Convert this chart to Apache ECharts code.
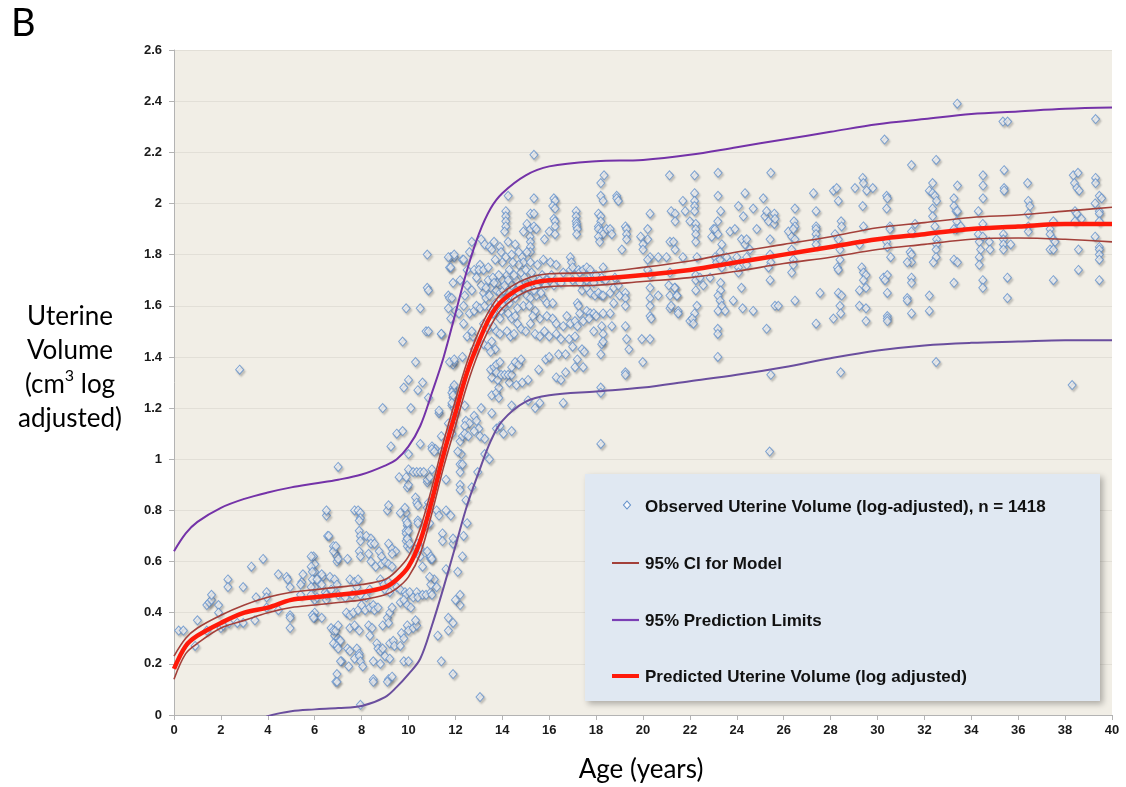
<!DOCTYPE html>
<html>
<head>
<meta charset="utf-8">
<script src="https://cdn.jsdelivr.net/npm/echarts@6/dist/echarts.min.js"></script>
<style>
  html, body { margin: 0; padding: 0; background: #fff; }
  #chart { width: 1126px; height: 787px; }
</style>
</head>
<body>
<div id="chart"></div>
<script>
// observed points [age, log volume]
const obsEarly = [
  [0.2,0.33],[0.4,0.33],[0.9,0.27],[1.0,0.37],[1.4,0.33],[1.4,0.43],[1.5,0.44],[1.6,0.45],[1.6,0.47],[1.9,0.43],
  [1.9,0.40],[2.0,0.34],[2.1,0.35],[2.3,0.53],[2.3,0.50],[2.35,0.36],[2.7,0.36],[2.95,0.36],[2.95,0.50],[3.3,0.58],
  [3.45,0.37],[3.5,0.46],[3.8,0.61],[3.95,0.48],[3.95,0.46],[3.95,0.42],[4.45,0.55],[4.45,0.41],[4.8,0.54],[4.85,0.53],
  [4.95,0.50],[4.95,0.39],[4.95,0.38],[4.95,0.34],[5.45,0.52],[5.4,0.47],[5.95,0.62],[6.0,0.59],[6.0,0.56],[6.0,0.50],
  [6.0,0.45],[6.0,0.40],[6.0,0.38],[6.35,0.54],[6.45,0.48],[6.5,0.45],[6.5,0.78],[6.55,0.70],[2.8,1.35],[7.0,0.97],
  [6.5,0.80],[7.7,0.80],[7.85,0.80],[7.95,0.79],[7.95,0.77],[7.9,0.76],[9.1,0.80],[9.15,0.82],[9.9,0.79],[9.9,0.76],
  [9.95,0.74],[9.9,0.72],[9.95,0.89],[10.4,0.76],[10.8,0.91],[10.85,0.83],[10.8,0.81],[6.6,0.70],[6.8,0.66],[6.9,0.63],
  [6.95,0.62],[6.95,0.60],[7.0,0.61],[7.9,0.72],[7.95,0.70],[7.95,0.68],[8.2,0.70],[8.4,0.69],[8.4,0.67],[8.55,0.67],
  [7.9,0.64],[7.95,0.62],[7.4,0.61],[8.3,0.63],[8.4,0.60],[8.75,0.64],[8.85,0.62],[9.15,0.67],[9.3,0.65],[9.45,0.64],
  [9.3,0.63],[8.6,0.58],[8.85,0.59],[9.0,0.60],[9.15,0.59],[9.3,0.58],[9.9,0.71],[9.95,0.69],[9.9,0.68],[9.95,0.66],
  [10.05,0.65],[10.4,0.67],[10.5,0.65],[10.5,0.62],[10.9,0.62],[10.95,0.61],[6.8,0.64],[6.9,0.66],[6.85,0.31],[7.0,0.30],
  [5.85,0.62],[5.85,0.58],[5.9,0.56],[5.9,0.53],[5.85,0.50],[6.3,0.55],[6.1,0.53],[6.3,0.51],[6.65,0.54],[6.85,0.53],
  [6.95,0.51],[7.5,0.53],[7.7,0.52],[7.85,0.53],[7.8,0.50],[5.5,0.55],[5.4,0.51],[5.85,0.47],[6.1,0.46],[6.5,0.47],
  [6.7,0.49],[7.0,0.47],[7.3,0.46],[7.6,0.47],[7.95,0.47],[8.2,0.46],[8.35,0.49],[8.8,0.53],[8.95,0.51],[9.15,0.52],
  [9.0,0.49],[9.2,0.48],[9.5,0.50],[9.65,0.49],[9.85,0.48],[9.9,0.47],[10.05,0.48],[10.2,0.46],[10.35,0.48],[10.4,0.46],
  [10.6,0.47],[10.75,0.47],[10.95,0.48],[11.0,0.47],[11.1,0.53],[10.95,0.51],[7.05,0.29],[7.15,0.21],
  [5.9,0.39],[5.95,0.38],[6.3,0.38],[6.7,0.34],[6.8,0.33],[6.9,0.33],[7.0,0.35],[7.35,0.40],[7.5,0.39],[7.65,0.40],
  [7.85,0.41],[8.0,0.43],[8.15,0.41],[7.5,0.34],[7.7,0.35],[7.9,0.33],[8.35,0.42],[8.5,0.43],[8.55,0.41],[8.7,0.42],
  [8.3,0.35],[8.45,0.34],[8.35,0.31],[8.9,0.35],[9.1,0.38],[9.15,0.36],[9.2,0.40],[9.3,0.42],[9.2,0.28],[9.35,0.29],
  [9.4,0.27],[9.65,0.27],[8.65,0.28],[8.7,0.26],[8.8,0.25],[8.9,0.26],[9.65,0.44],[9.8,0.45],[9.95,0.43],[10.1,0.42],
  [9.95,0.35],[10.0,0.33],[10.2,0.34],[10.35,0.35],[10.3,0.37],[9.7,0.32],[9.8,0.30],[6.8,0.28],[6.95,0.27],[7.1,0.29],
  [7.0,0.26],[7.4,0.26],[7.5,0.25],[7.8,0.26],[7.9,0.24],[7.7,0.22],[7.9,0.23],[7.95,0.21],[8.5,0.21],[8.8,0.20],
  [9.0,0.23],[9.2,0.22],[7.1,0.21],[7.45,0.19],[8.05,0.19],[9.8,0.21],[10.0,0.21],[6.95,0.16],[6.9,0.13],[8.5,0.14],
  [9.15,0.14],[9.3,0.15],[7.95,0.04],[6.95,0.13],[8.5,0.13],[9.1,0.13],[13.05,0.07]
];

// points between the upper limit and the lower limit during the rise, ages 9.5-12.5
const obsGap = [
  [10.0,0.90],[10.3,0.85],[10.35,0.83],[10.4,0.82],[10.8,0.92],[10.9,0.93],[9.65,0.79],[9.85,0.81],[9.95,0.75],[10.0,0.72],
  [9.95,0.69],[10.05,0.67],[10.4,0.75],[10.8,0.74],[10.9,0.75],[11.2,0.80],[11.3,0.78],[11.6,0.80],[11.8,0.78],[11.45,0.71],
  [11.45,0.68],[10.8,0.64],[10.95,0.62],[11.0,0.61],[11.9,0.67],[11.9,0.69],[11.7,0.38],[11.9,0.36],[11.4,0.21],[11.9,0.16],
  [11.25,0.31],[11.7,0.33],[10.6,0.58],[10.9,0.54],[11.2,0.50],[12.2,0.47],[12.2,0.43],[12.2,0.90],[12.5,0.75],[12.0,0.45],
  [12.3,0.62],[12.1,0.56],[12.45,0.84],[11.6,0.57],[12.35,0.70]
];

const obsRise = [
  [10.8,1.80],[11.8,1.79],[11.75,1.75],[11.95,1.79],[12.3,1.78],[9.9,1.59],[10.5,1.59],[10.8,1.67],[10.85,1.66],[11.7,1.64],
  [11.75,1.63],[11.9,1.69],[10.75,1.50],[10.85,1.50],[11.4,1.49],[9.75,1.46],[10.3,1.38],[11.9,1.37],[11.95,1.38],[10.0,1.31],
  [9.8,1.28],[10.4,1.27],[10.6,1.30],[11.9,1.28],[11.9,1.27],[11.9,1.24],[10.85,1.24],[8.9,1.20],[10.1,1.20],[11.3,1.18],
  [11.85,1.21],[11.95,1.20],[12.0,1.18],[9.5,1.10],[9.75,1.11],[10.5,1.06],[9.25,1.05],[10.0,1.02],[11.0,1.05],[11.15,1.04],
  [11.4,1.03],[10.0,0.96],[10.2,0.95],[10.35,0.95],[10.5,0.95],[10.65,0.95],[11.0,0.96],[9.6,0.93],[9.9,0.93],[12.2,0.98],
  [12.25,1.02],[12.2,1.07],[12.3,1.09],
  [11.4,1.49],[12.5,1.48],[12.75,1.48],[12.7,1.50],[11.75,1.38],[11.95,1.39],[12.3,1.40],[12.8,1.43],[13.2,1.45],[13.4,1.44],
  [13.55,1.46],[13.7,1.43],[13.5,1.42],[11.85,1.26],[11.95,1.29],[11.9,1.25],[11.85,1.22],[12.0,1.19],[11.9,1.15],[11.3,1.19],
  [11.7,1.14],[11.8,1.11],[11.85,1.10],[11.9,1.13],[11.4,1.09],[11.0,1.04],[11.1,1.03],[12.1,1.03],[12.3,0.98],[12.2,0.95],
  [12.4,1.21],[12.45,1.15],[12.6,1.14],[12.8,1.17],[12.9,1.15],[13.0,1.12],[12.8,1.11],[12.4,1.13],[12.4,1.10],[12.55,1.09],
  [13.05,1.09],[13.25,1.08],[13.25,1.02],[13.45,1.00],[13.55,1.18],[13.75,1.12],[13.9,1.13],[14.05,1.10],[14.4,1.11],[13.55,1.25],
  [13.75,1.26],[13.85,1.28],[13.85,1.24],[14.4,1.21],[15.1,1.23],[15.4,1.20],[15.6,1.22],[16.6,1.22],[13.55,1.32],[13.8,1.31],
  [14.3,1.30],[14.6,1.29],[14.85,1.30],[15.1,1.31],[13.5,1.35],[13.65,1.36],[13.75,1.37],[13.9,1.38],[13.75,1.34],[13.95,1.33],
  [14.1,1.33],[14.25,1.33],[14.4,1.33],[14.4,1.36],[14.55,1.38],[14.7,1.37],[14.8,1.39],[15.55,1.35],[15.85,1.39],[16.0,1.40],
  [16.3,1.32],[16.5,1.31],[16.7,1.34],[16.4,1.41],[16.7,1.41],[12.7,0.89],[12.95,0.95],[13.1,1.20],[12.2,0.88],[11.6,0.92],
  [14.25,2.03],[15.35,2.02],[15.2,1.96],[15.35,1.96],[16.2,2.02],[16.25,2.01],[16.15,1.99],[16.25,1.98],[14.15,1.97],[14.15,1.95],
  [14.15,1.93],[14.15,1.91],[14.1,1.89],[14.25,1.85],[15.05,1.92],[15.2,1.90],[15.18,1.87],[15.2,1.85],[15.2,1.83],[15.2,1.81],
  [15.35,1.91],[15.45,1.90],[14.9,1.89],[15.8,1.86],[16.0,1.89],[16.2,1.94],[16.25,1.93],[16.25,1.91],[16.25,1.88],[15.35,2.19],
  [12.7,1.85],[13.1,1.86],[13.25,1.84],[13.45,1.83],[13.65,1.85],[13.55,1.82],[13.9,1.83],[13.95,1.81],[14.15,1.79],[14.4,1.80],
  [14.55,1.84],[14.7,1.81],[14.85,1.79],[15.05,1.81],[14.9,1.77],[15.2,1.77],[11.7,1.79],[11.95,1.80],[12.35,1.78],[12.6,1.81],
  [11.8,1.75],[12.5,1.74],[12.8,1.74],[13.05,1.76],[13.0,1.74],[13.2,1.74],[13.4,1.75],[15.75,1.78],[16.05,1.77],[16.3,1.76],
  [16.6,1.73],[16.9,1.74],[11.85,1.63],[12.0,1.58],[12.15,1.57],[11.7,1.59],[11.8,1.55],[12.35,1.53],[12.35,1.60],[12.6,1.57],
  [12.8,1.58],[12.9,1.60],[13.05,1.59],[13.25,1.60],[13.5,1.67],[13.75,1.66],[13.9,1.65],[14.1,1.62],[14.15,1.63],[14.35,1.64],
  [14.6,1.66],[14.9,1.67],[15.05,1.64],[15.2,1.63],[15.45,1.64],[15.75,1.63],[15.9,1.61],[16.15,1.61],[13.95,1.58],[14.25,1.57],
  [14.4,1.55],[14.55,1.56],[14.65,1.53],[14.8,1.51],[15.0,1.50],[15.2,1.53],[15.6,1.55],[15.9,1.56],[16.15,1.55],[16.3,1.53],
  [16.6,1.52],[16.75,1.56],[16.9,1.53],[13.2,1.53],[13.4,1.51],[13.6,1.52],[13.75,1.50],[13.9,1.49],[14.2,1.50],[14.35,1.48],
  [14.5,1.49],[15.4,1.49],[15.6,1.48],[15.8,1.50],[16.0,1.48],[16.3,1.49],[16.5,1.47],[16.85,1.47],
  [13.2,1.65],[13.4,1.70],[13.6,1.71],[13.8,1.69],[14.0,1.70],[14.2,1.72],[14.4,1.68],[14.6,1.70],[14.8,1.73],[15.0,1.69],
  [15.3,1.71],[15.5,1.68],[15.7,1.72],[13.1,1.68],[14.3,1.74],[14.7,1.76],[15.0,1.74],[13.3,1.63],[13.5,1.59],[13.7,1.61],
  [14.9,1.60],[15.4,1.58],[12.5,1.68],[12.7,1.66],[12.9,1.71],[12.4,1.64],[12.2,1.70],[15.9,1.70],[16.2,1.68],[16.5,1.69],
  [13.3,1.67],[13.45,1.64],[13.65,1.69],[13.85,1.72],[14.05,1.66],[14.1,1.68],[14.25,1.70],[14.5,1.72],[14.55,1.63],[14.7,1.65],
  [14.75,1.68],[14.95,1.71],[15.1,1.67],[15.25,1.73],[15.35,1.66],[15.6,1.70],[15.65,1.65],[15.85,1.68],[14.05,1.60],[14.3,1.61],
  [14.65,1.59],[15.15,1.60],[15.3,1.56],[13.9,1.55],[13.6,1.57],[14.0,1.77],[14.45,1.77],[13.7,1.78],[15.5,1.76],[16.1,1.72]
];

const obsPlateau = [
  [18.34,2.11],[18.2,2.08],[21.13,2.11],[18.2,2.03],[18.3,2.01],[18.88,2.03],[18.88,2.02],[18.95,2.01],[21.7,2.01],[21.8,1.97],
  [21.2,1.97],[21.37,1.96],[21.37,1.93],[22.0,1.93],[17.15,1.97],[17.15,1.95],[17.15,1.93],[17.17,1.92],[17.17,1.91],[17.2,1.90],
  [17.17,1.88],[18.1,1.96],[18.2,1.95],[18.2,1.93],[18.1,1.91],[18.1,1.90],[18.24,1.89],[18.3,1.88],[18.1,1.87],[18.15,1.85],
  [18.45,1.90],[18.6,1.90],[18.67,1.88],[19.25,1.91],[19.3,1.90],[19.3,1.88],[19.3,1.86],[19.1,1.82],[20.3,1.96],[20.2,1.90],
  [20.2,1.86],[19.9,1.87],[20.0,1.84],[20.0,1.82],[20.3,1.79],[20.2,1.78],[20.65,1.79],[21.0,1.79],[21.15,1.85],[21.3,1.85],
  [21.37,1.82],[22.2,2.04],[22.2,2.01],[22.2,1.99],[22.2,1.97],[22.25,1.92],[22.25,1.90],[22.25,1.88],[22.25,1.85],[22.2,2.11],
  [16.9,1.79],[16.95,1.77],[17.0,1.75],[17.25,1.74],[17.3,1.73],[17.45,1.74],[17.6,1.75],[17.75,1.74],[17.9,1.72],[18.0,1.72],
  [18.24,1.71],[18.3,1.75],[17.4,1.66],[17.6,1.67],[17.75,1.65],[17.95,1.64],[18.1,1.65],[18.24,1.64],[18.3,1.64],[18.6,1.65],
  [18.75,1.67],[18.95,1.68],[19.0,1.64],[19.25,1.65],[19.25,1.63],[20.2,1.74],[20.3,1.72],[20.3,1.67],[20.65,1.64],[21.15,1.73],
  [21.15,1.64],[21.37,1.67],[21.44,1.64],[21.7,1.79],[22.3,1.79],[17.2,1.61],[17.25,1.60],[17.3,1.57],[17.6,1.58],[17.75,1.57],
  [17.9,1.57],[18.0,1.56],[18.3,1.57],[18.6,1.57],[18.75,1.61],[19.25,1.60],[20.3,1.63],[20.3,1.60],[20.3,1.56],[20.35,1.55],
  [21.15,1.59],[21.5,1.58],[22.0,1.54],[22.3,1.60],[22.2,1.57],[17.1,1.54],[17.2,1.52],[17.45,1.54],[17.7,1.55],[17.9,1.50],
  [18.24,1.52],[18.3,1.49],[18.67,1.52],[19.25,1.52],[19.3,1.47],[19.4,1.43],[19.95,1.47],[20.3,1.47],[17.1,1.48],[17.0,1.44],
  [17.2,1.39],[17.4,1.43],[17.5,1.42],[18.24,1.45],[18.3,1.46],[18.2,1.41],[17.1,1.36],[17.45,1.36],[19.99,1.38],[19.25,1.34],
  [19.25,1.33],[18.2,1.28],[18.2,1.26],[18.2,1.06],[17.0,1.70],[17.3,1.69],[17.6,1.70],[17.9,1.69],[18.4,1.70],[18.8,1.71],
  [21.1,1.68],[21.35,1.67],[21.45,1.64],[21.2,1.60],[21.5,1.57],[22.1,1.55],[22.15,1.53],[22.25,1.72],[22.25,1.70],[22.25,1.66]
];

const obsAdult = [
  [22.43,1.71],[22.57,1.68],[22.86,1.71],[23.0,1.90],[22.93,1.87],[23.07,1.90],[23.2,1.88],[23.07,1.79],[23.14,1.77],[23.29,1.78],
  [23.36,1.75],[23.2,2.03],[23.19,1.93],[23.31,1.97],[23.36,1.84],[23.29,1.81],[23.31,1.69],[23.31,1.66],[23.2,1.64],[23.29,1.62],
  [23.36,1.60],[23.2,1.58],[23.5,1.58],[23.19,1.51],[23.19,1.49],[23.19,1.40],[23.57,1.79],[23.71,1.77],[23.71,1.89],[23.92,1.90],
  [24.07,1.99],[24.0,1.79],[24.07,1.75],[24.07,1.73],[23.85,1.62],[24.2,1.67],[24.35,2.04],[24.28,1.95],[24.2,1.86],[24.35,1.84],
  [24.42,1.86],[24.42,1.79],[24.42,1.76],[24.56,1.82],[24.25,1.59],[24.7,1.98],[24.7,1.58],[24.85,1.90],[23.2,2.12],[25.45,2.12],
  [25.13,2.02],[25.2,1.95],[25.27,1.97],[25.35,1.93],[25.42,1.86],[25.42,1.80],[25.45,1.77],[25.35,1.75],[25.42,1.70],[25.27,1.51],
  [25.6,1.96],[25.6,1.92],[25.63,1.94],[25.63,1.60],[25.77,1.60],[25.45,1.33],[25.4,1.03],[26.2,1.89],[26.34,1.87],[26.48,1.86],
  [26.44,1.93],[26.48,1.91],[26.41,1.90],[26.34,1.82],[26.41,1.78],[26.41,1.76],[26.34,1.73],[26.48,1.98],[26.48,1.62],[27.27,2.04],
  [27.38,1.97],[27.38,1.91],[27.38,1.90],[27.38,1.88],[27.38,1.86],[27.38,1.84],[27.55,1.65],[27.38,1.53],[28.12,2.05],[28.26,2.06],
  [28.33,2.01],[28.19,1.88],[28.33,1.86],[28.4,1.82],[28.45,1.93],[28.47,1.91],[28.4,1.78],[28.29,1.75],[28.33,1.74],[28.33,1.65],
  [28.47,1.64],[28.4,1.60],[28.43,1.57],[28.12,1.55],[28.43,1.34],[29.04,2.06],[29.37,2.10],[29.4,2.08],[29.54,2.05],[29.8,2.06],
  [29.37,1.99],[29.4,1.91],[29.23,1.84],[29.33,1.75],[29.4,1.73],[29.51,1.72],[29.4,1.70],[29.23,1.66],[29.51,1.67],[29.23,1.60],
  [29.51,1.59],[29.51,1.54],[30.39,2.03],[30.42,2.02],[30.39,1.98],[30.53,1.91],[30.53,1.90],[30.39,1.85],[30.42,1.83],[30.56,1.79],
  [30.25,1.71],[30.42,1.72],[30.32,1.70],[30.42,1.65],[30.42,1.56],[30.42,1.55],[30.42,1.54],[30.3,2.25],[31.45,2.15],[31.6,1.92],
  [31.45,1.89],[31.39,1.81],[31.45,1.80],[31.45,1.77],[31.27,1.77],[31.45,1.71],[31.45,1.69],[31.27,1.63],[31.27,1.62],[31.45,1.57],
  [32.5,2.17],[32.21,2.05],[32.35,2.08],[32.35,2.04],[32.45,2.03],[32.52,2.01],[32.35,1.98],[32.35,1.95],[32.45,1.91],[32.52,1.86],
  [32.52,1.84],[32.5,1.82],[32.5,1.79],[32.38,1.77],[32.21,1.64],[32.21,1.58],[32.5,1.38],[33.26,2.02],[33.26,1.99],[33.35,1.97],
  [33.41,1.97],[33.38,1.93],[33.38,1.90],[33.26,1.90],[33.55,1.91],[33.26,1.78],[33.41,1.77],[33.26,1.69],[33.41,2.07],[33.4,2.39],
  [34.5,2.11],[34.5,2.07],[34.5,2.02],[34.3,1.97],[34.49,1.92],[34.3,1.88],[34.49,1.87],[34.34,1.85],[34.4,1.82],[34.34,1.79],
  [34.34,1.76],[34.77,1.85],[34.8,1.82],[34.49,1.70],[34.49,1.67],[35.4,2.13],[35.4,2.06],[35.4,2.05],[35.35,2.32],[35.55,2.32],
  [35.37,1.88],[35.37,1.86],[35.37,1.84],[35.37,1.82],[35.68,1.84],[35.54,1.71],[35.54,1.63],[36.4,2.08],[36.43,2.01],[36.5,1.99],
  [36.43,1.96],[36.43,1.91],[36.43,1.89],[37.5,1.93],[37.36,1.90],[37.36,1.88],[37.5,1.86],[37.57,1.85],[37.36,1.82],[37.5,1.82],
  [37.5,1.70],[38.35,2.11],[38.55,2.12],[38.4,2.08],[38.5,2.06],[38.6,2.05],[38.42,1.97],[38.5,1.96],[38.7,1.94],[38.42,1.93],
  [38.57,1.82],[38.57,1.74],[38.3,1.29],[39.3,2.10],[39.3,2.08],[39.28,2.00],[39.46,2.03],[39.56,2.02],[39.46,1.97],[39.46,1.96],
  [39.46,1.93],[39.28,1.87],[39.46,1.83],[39.46,1.82],[39.46,1.80],[39.46,1.78],[39.46,1.70],[39.3,2.33]
];

// fitted curves, sampled at these ages
const curveAge = [0, 0.5, 1, 2, 3, 4, 5, 6, 7, 8, 9, 9.5, 10, 10.5, 11, 11.5, 12, 12.5, 13, 13.5, 14, 15, 16, 18, 20, 22, 24, 26, 28, 30, 32, 34, 36, 38, 40];
const predicted = [0.18, 0.27, 0.31, 0.36, 0.40, 0.42, 0.45, 0.46, 0.47, 0.48, 0.50, 0.53, 0.58, 0.68, 0.84, 1.02, 1.18, 1.34, 1.46, 1.56, 1.62, 1.68, 1.70, 1.705, 1.72, 1.74, 1.77, 1.80, 1.83, 1.86, 1.88, 1.90, 1.91, 1.92, 1.92];
const ciUpper = [0.23, 0.30, 0.34, 0.39, 0.43, 0.46, 0.48, 0.49, 0.50, 0.51, 0.53, 0.565, 0.62, 0.73, 0.89, 1.07, 1.23, 1.38, 1.50, 1.59, 1.65, 1.705, 1.725, 1.73, 1.75, 1.775, 1.81, 1.84, 1.87, 1.905, 1.925, 1.945, 1.955, 1.97, 1.985];
const ciLower = [0.14, 0.24, 0.28, 0.34, 0.37, 0.40, 0.42, 0.43, 0.44, 0.45, 0.47, 0.495, 0.54, 0.63, 0.79, 0.97, 1.13, 1.29, 1.42, 1.52, 1.59, 1.655, 1.675, 1.68, 1.695, 1.71, 1.735, 1.765, 1.79, 1.82, 1.84, 1.86, 1.865, 1.86, 1.85];
const piUpper = [0.64, 0.71, 0.755, 0.81, 0.845, 0.87, 0.89, 0.905, 0.92, 0.94, 0.975, 1.0, 1.05, 1.13, 1.26, 1.40, 1.57, 1.74, 1.88, 1.98, 2.04, 2.11, 2.145, 2.165, 2.17, 2.19, 2.22, 2.25, 2.28, 2.31, 2.33, 2.35, 2.36, 2.37, 2.375];
const piLower = [-0.3, -0.2, -0.15, -0.09, -0.05, -0.005, 0.015, 0.022, 0.027, 0.035, 0.07, 0.11, 0.16, 0.22, 0.35, 0.50, 0.66, 0.82, 0.95, 1.07, 1.15, 1.225, 1.25, 1.265, 1.28, 1.305, 1.33, 1.36, 1.395, 1.425, 1.445, 1.455, 1.46, 1.465, 1.465];

const xTicks = { min: 0, max: 40, step: 2 };
const yTicks = { min: 0, max: 2.6, step: 0.2 };

const legendLabels = [
  'Observed Uterine Volume (log-adjusted), n = 1418',
  '95% CI for Model',
  '95% Prediction Limits',
  'Predicted Uterine Volume (log adjusted)'
];

function pairs(ys) {
  return curveAge.map((a, i) => [a, ys[i]]);
}

const chart = echarts.init(document.getElementById('chart'));

const tickFont = { fontFamily: 'Liberation Sans, Arial, sans-serif', fontWeight: 'bold', fontSize: 13, color: '#1a1a1a' };
const legFont = 'bold 17px "Liberation Sans", Arial, sans-serif';
const titleFamily = 'Lato, "Open Sans", sans-serif';

const lineSeries = (name, ys, color, width, z) => ({
  name: name,
  type: 'line',
  data: pairs(ys),
  smooth: 0.35,
  symbol: 'none',
  clip: true,
  silent: true,
  z: z,
  lineStyle: { color: color, width: width }
});

const scatterStyle = {
  color: '#f5f7fb',
  borderColor: '#6290ca',
  borderWidth: 1,
  shadowBlur: 2,
  shadowColor: 'rgba(60,60,60,0.3)',
  shadowOffsetX: 1.5,
  shadowOffsetY: 2
};

const scatterSeries = (data) => ({
  name: legendLabels[0], type: 'scatter', data: data,
  symbol: 'diamond', symbolSize: [8, 9], itemStyle: scatterStyle, z: 2, silent: true
});

chart.setOption({
  animation: false,
  backgroundColor: '#ffffff',
  grid: {
    left: 174, right: 14, top: 50, bottom: 72,
    show: true, backgroundColor: '#f1eee6', borderWidth: 0
  },
  xAxis: {
    type: 'value', min: xTicks.min, max: xTicks.max, interval: xTicks.step,
    axisLine: { show: true, lineStyle: { color: '#b3b3b3', width: 1 } },
    axisTick: { show: true, length: 5, lineStyle: { color: '#b3b3b3' } },
    axisLabel: Object.assign({ margin: 9 }, tickFont),
    splitLine: { show: false }
  },
  yAxis: {
    type: 'value', min: yTicks.min, max: yTicks.max, interval: yTicks.step,
    axisLine: { show: true, lineStyle: { color: '#b3b3b3', width: 1 } },
    axisTick: { show: true, length: 5, lineStyle: { color: '#b3b3b3' } },
    axisLabel: Object.assign({ margin: 12 }, tickFont),
    splitLine: { show: true, lineStyle: { color: '#e2dfd7', width: 1 } }
  },
  series: [
    scatterSeries(obsEarly),
    scatterSeries(obsGap),
    scatterSeries(obsRise),
    scatterSeries(obsPlateau),
    scatterSeries(obsAdult),
    lineSeries('pi upper', piUpper, '#7432a8', 2, 3),
    lineSeries('pi lower', piLower, '#6a4e9e', 2, 3),
    lineSeries('predicted', predicted, '#ff1a0a', 4.5, 4),
    lineSeries('ci upper', ciUpper, '#a3403a', 1.6, 5),
    lineSeries('ci lower', ciLower, '#a3403a', 1.6, 5)
  ],
  graphic: [
    { type: 'text', left: 11, top: 5, style: { text: 'B', font: '38px ' + titleFamily, fill: '#000' } },
    { type: 'text', x: 70, y: 300, style: {
        text: 'Uterine\nVolume\n(cm{sup|3} log\nadjusted)',
        font: '26px ' + titleFamily, fill: '#000', align: 'center', lineHeight: 34,
        rich: { sup: { fontSize: 16, fontFamily: titleFamily, verticalAlign: 'top', lineHeight: 22, padding: [0, 0, 10, 0] } }
      } },
    { type: 'text', x: 641, y: 757, style: { text: 'Age (years)', font: '26px ' + titleFamily, fill: '#000', align: 'center' } },
    // legend box
    { type: 'rect', x: 585, y: 474, z: 50, shape: { x: 0, y: 0, width: 515, height: 227 },
      style: { fill: '#e0e8f2', shadowBlur: 6, shadowOffsetX: 3, shadowOffsetY: 3, shadowColor: 'rgba(0,0,0,0.28)' } },
    { type: 'polygon', x: 627, y: 505, z: 51, shape: { points: [[0, -4], [3.5, 0], [0, 4], [-3.5, 0]] },
      style: { fill: '#f5f7fb', stroke: '#6290ca', lineWidth: 1.1 } },
    { type: 'text', x: 645, y: 507, z: 51, style: { text: legendLabels[0], font: legFont, fill: '#111', verticalAlign: 'middle' } },
    { type: 'line', z: 51, shape: { x1: 612, y1: 563, x2: 639, y2: 563 }, style: { stroke: '#a3403a', lineWidth: 2 } },
    { type: 'text', x: 645, y: 564, z: 51, style: { text: legendLabels[1], font: legFont, fill: '#111', verticalAlign: 'middle' } },
    { type: 'line', z: 51, shape: { x1: 612, y1: 620, x2: 639, y2: 620 }, style: { stroke: '#7b3fb5', lineWidth: 2.2 } },
    { type: 'text', x: 645, y: 621, z: 51, style: { text: legendLabels[2], font: legFont, fill: '#111', verticalAlign: 'middle' } },
    { type: 'line', z: 51, shape: { x1: 612, y1: 676, x2: 639, y2: 676 }, style: { stroke: '#ff1a0a', lineWidth: 4 } },
    { type: 'text', x: 645, y: 677, z: 51, style: { text: legendLabels[3], font: legFont, fill: '#111', verticalAlign: 'middle' } }
  ]
});
</script>
</body>
</html>
